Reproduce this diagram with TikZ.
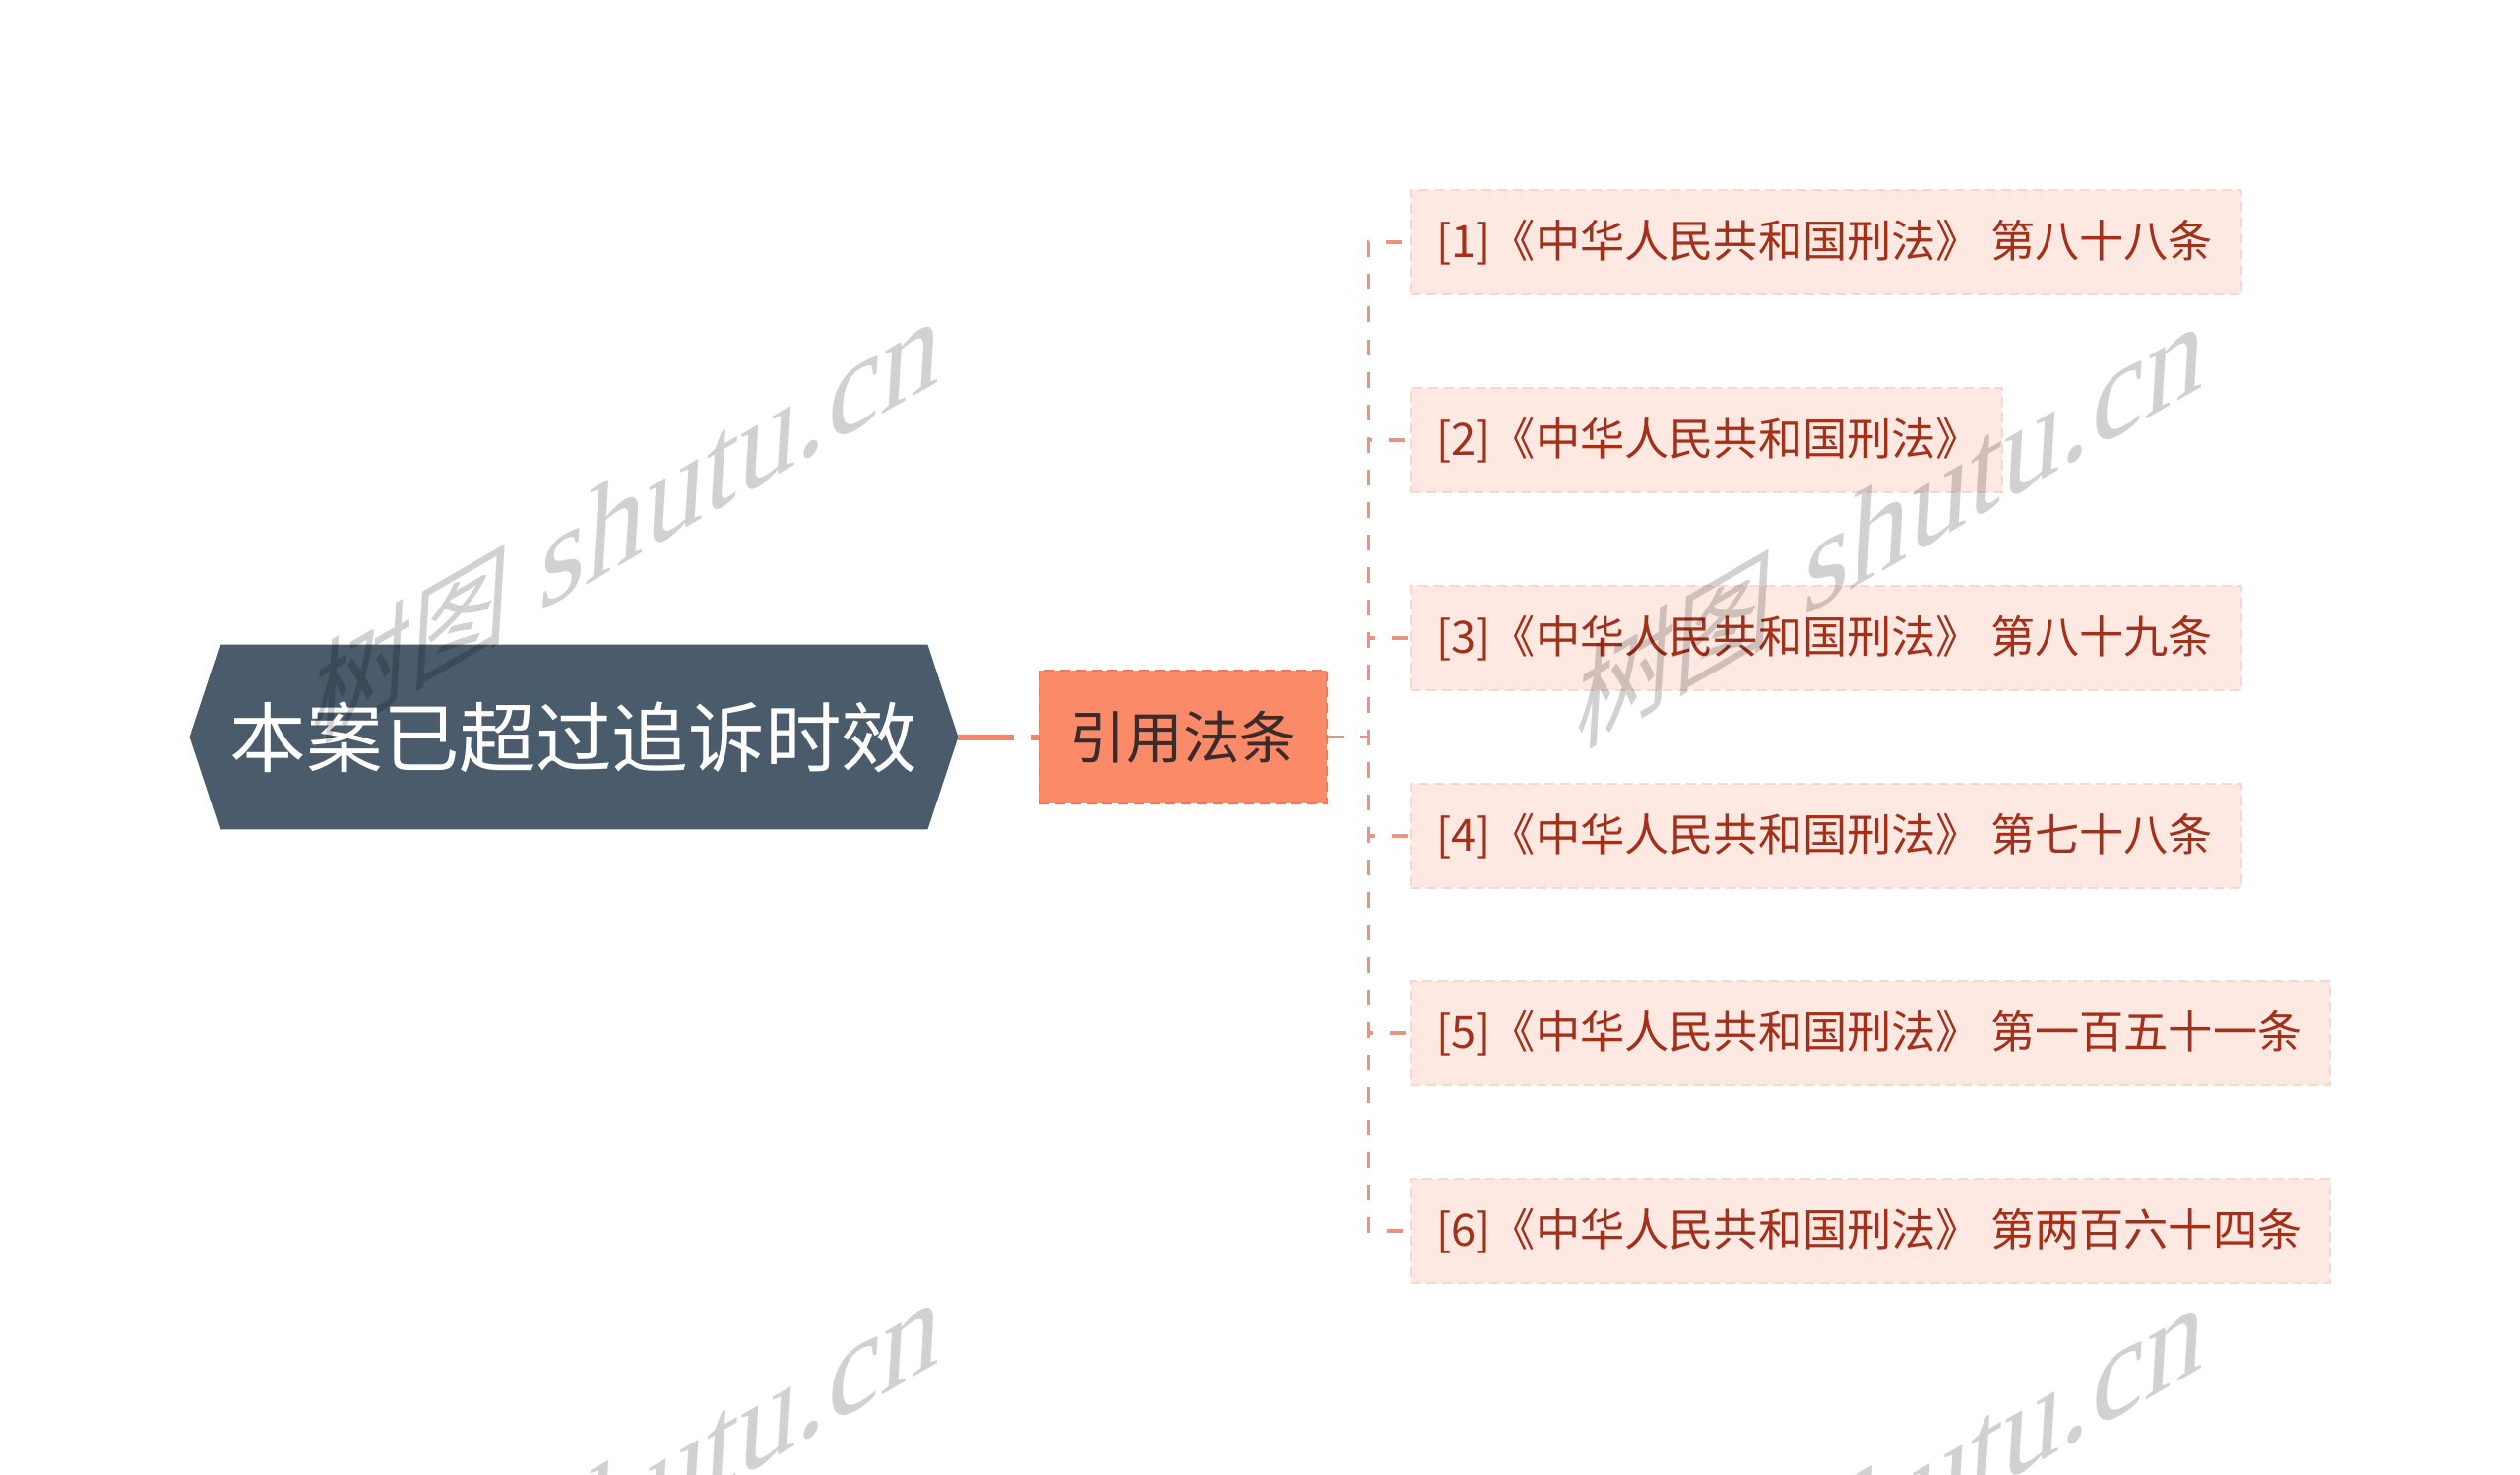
\documentclass[tikz,border=0pt]{standalone}
\usepackage{fontspec}
\setmainfont{Noto Sans CJK SC}
\newfontfamily\wmcjk{Noto Sans CJK SC}
\newfontfamily\wmlat{Liberation Serif}
\usetikzlibrary{backgrounds}
\definecolor{slate}{HTML}{4A5B6B}
\definecolor{coralfill}{HTML}{FB8A68}
\definecolor{coraledge}{HTML}{EE7A5A}
\definecolor{midtext}{HTML}{3B2B2B}
\definecolor{leaffill}{HTML}{FDE8E2}
\definecolor{leafedge}{HTML}{F8D8CE}
\definecolor{leaftext}{HTML}{A4301A}
\definecolor{rootline}{HTML}{F0876B}
\definecolor{leafline}{HTML}{EA9380}
\tikzset{
  roottext/.style={text=white, font=\fontsize{38.8pt}{44pt}\selectfont, inner sep=0pt,
    minimum width=390pt, minimum height=93.5pt},
  midbox/.style={fill=coralfill, draw=coraledge, dash pattern=on 5pt off 3pt,
    line width=1.2pt, text=midtext, font=\fontsize{28.8pt}{34pt}\selectfont,
    minimum width=146pt, minimum height=67.5pt, inner sep=0pt},
  leaf/.style={anchor=west, fill=leaffill, draw=leafedge, dash pattern=on 5pt off 3pt,
    line width=1.2pt, text=leaftext, font=\fontsize{22.6pt}{28pt}\selectfont,
    minimum height=53pt, inner xsep=13pt, inner ysep=0pt},
  rootconn/.style={draw=rootline, line width=3pt, dash pattern=on 28.5pt off 8.5pt},
  leafconn/.style={draw=leafline, line width=1.6pt, dash pattern=on 8pt off 8.5pt},
  wm/.style={text=black, text opacity=0.18, inner sep=0pt,
    cm={0.866,0.5,0.06,1,(0,0)}, transform shape},
}
\newcommand{\wmtext}{{\wmcjk\fontsize{58pt}{70pt}\selectfont 树图}{\wmlat\fontsize{70pt}{80pt}\selectfont\ shutu.cn}}
\begin{document}
\begin{tikzpicture}[x=0.5pt,y=-0.5pt]
\useasboundingbox (0,0) rectangle (2560,1498);
\begin{scope}[on background layer]
\fill[white] (0,0) rectangle (2560,1498);
\end{scope}

% root
\node[roottext] (root) at (583,748.5) {本案已超过追诉时效};
\begin{scope}[on background layer]
\fill[slate] (root.west) -- ([xshift=15.5pt]root.north west) -- ([xshift=-15.5pt]root.north east)
  -- (root.east) -- ([xshift=-15.5pt]root.south east) -- ([xshift=15.5pt]root.south west) -- cycle;
\end{scope}

% middle
\node[midbox] (mid) at (1202,748.5) {引用法条};

% leaves
\node[leaf, minimum width=422pt]   (l1) at (1432,246)  {\makebox[396pt][l]{[1]《中华人民共和国刑法》 第八十八条}};
\node[leaf, minimum width=300.5pt] (l2) at (1432,447)  {\makebox[274.5pt][l]{[2]《中华人民共和国刑法》}};
\node[leaf, minimum width=422pt]   (l3) at (1432,648)  {\makebox[396pt][l]{[3]《中华人民共和国刑法》 第八十九条}};
\node[leaf, minimum width=422pt]   (l4) at (1432,849)  {\makebox[396pt][l]{[4]《中华人民共和国刑法》 第七十八条}};
\node[leaf, minimum width=467pt]   (l5) at (1432,1049) {\makebox[441pt][l]{[5]《中华人民共和国刑法》 第一百五十一条}};
\node[leaf, minimum width=467pt]   (l6) at (1432,1250) {\makebox[441pt][l]{[6]《中华人民共和国刑法》 第两百六十四条}};

% connectors
\draw[rootconn] (root.east) -- (mid.west);
\foreach \n in {l1,l2,l3,l4,l5,l6}{
  \draw[leafconn] (mid.east) -- ++(41,0) |- (\n.west);
}

% watermarks
\begin{scope}
\clip (0,0) rectangle (2560,1498);
\foreach \wx/\wy [count=\i] in {637/528, 1921/533, 637/1524, 1921/1529}{
  \begin{scope}[shift={(\wx,\wy)}]
    \node[wm] (w\i) at (0,0) {\wmtext};
  \end{scope}
}
\end{scope}
\end{tikzpicture}
\end{document}
